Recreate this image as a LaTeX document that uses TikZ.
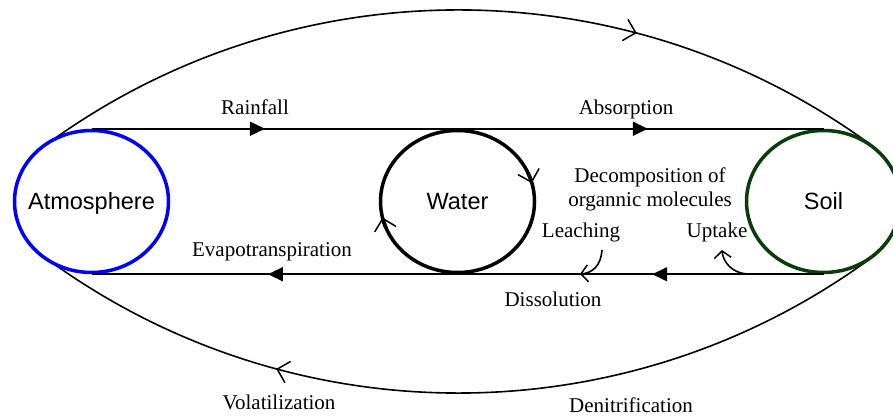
\documentclass[tikz,border=0pt]{standalone}
\usepackage{fontspec}
\setmainfont{Liberation Serif}
\newfontfamily\poolfont{Liberation Sans}
\usetikzlibrary{arrows.meta,decorations.markings,shapes.geometric}
\definecolor{atmblue}{RGB}{0,0,255}
\definecolor{soilgreen}{RGB}{10,60,10}

\tikzset{
  openhead/.tip={Straight Barb[length=11pt,width=22pt,line width=1.5pt]},
  smallhead/.tip={Straight Barb[length=7pt,width=17pt,line width=1.5pt]},
  solidhead/.tip={Triangle[length=15pt,width=14pt]},
}

\begin{document}
\begin{tikzpicture}[x=1pt,y=1pt,
  pool/.style={ellipse, draw, fill=white, line width=3.5pt,
    minimum width=154pt, minimum height=142pt, inner sep=0pt},
  poolname/.style={inner sep=0pt, text height=17pt, text depth=0pt,
    font=\poolfont\fontsize{23.5}{26}\selectfont},
  lbl/.style={anchor=base, inner sep=0pt, font=\fontsize{21}{24}\selectfont},
  flow/.style={line width=1.6pt},
  midarrows/.style n args={2}{postaction={decorate},
    decoration={markings,
      mark=at position #1 with {\arrow{solidhead}},
      mark=at position #2 with {\arrow{solidhead}}}},
  arcarrow/.style={postaction={decorate},
    decoration={markings, mark=at position #1 with {\arrow{openhead}}}},
]
\useasboundingbox (0,0) rectangle (893,417);

% outer exchange arcs (drawn first, the pools cover their ends)
\coordinate (topc) at (458.4,-290.9);
\coordinate (botc) at (458.4,721.9);
\draw[flow, arcarrow=0.698] (topc) ++(125.8:698) arc[start angle=125.8, end angle=53.3, radius=698];
\draw[flow, arcarrow=0.715] (botc) ++(-53.3:698) arc[start angle=-53.3, end angle=-125.8, radius=698];

% the three pools
\node[pool, draw=atmblue] (atm) at (91.5,215.5) {};
\node[pool] (water) at (457.5,215.5) {};
\node[pool, draw=soilgreen] (soil) at (823.5,215.5) {};
\node[poolname] (atmname) at (atm.center) {Atmosphere};
\node[poolname] (watername) at (water.center) {Water};
\node[poolname] (soilname) at (soil.center) {Soil};

% straight fluxes
\draw[flow, midarrows={0.237}{0.760}] (atm.north) -- (soil.north);
\draw[flow, midarrows={0.234}{0.759}] (soil.south) -- (atm.south);

% circulation marks on the water pool
\draw[line width=3.5pt, -{openhead}] (water.center) ++(24:77 and 71)
  arc[start angle=24, end angle=15, x radius=77, y radius=71];
\draw[line width=3.5pt, -{openhead}] (water.center) ++(202:77 and 71)
  arc[start angle=202, end angle=193, x radius=77, y radius=71];

% leaching and uptake hooks
\coordinate (leachstart) at (602,167);
\coordinate (leachend) at (580,143);
\draw[flow, -{smallhead}] (leachstart) .. controls (601,152) and (593,144) .. (leachend);
\coordinate (upstart) at (747,143);
\coordinate (upend) at (722,167);
\draw[flow, -{smallhead}] (upstart) .. controls (732,144) and (723,155) .. (upend);

% labels
\node[lbl] (rain) at (255,302) {Rainfall};
\node[lbl] (absorb) at (626,302) {Absorption};
\node[lbl] (evap) at (272,160) {Evapotranspiration};
\node[lbl] (decompa) at (650,234) {Decomposition of};
\node[lbl] (decompb) at (650,210) {organnic molecules};
\node[lbl] (leach) at (581,179) {Leaching};
\node[lbl] (uptake) at (717,179) {Uptake};
\node[lbl] (dissol) at (553,110) {Dissolution};
\node[lbl] (volat) at (279,7) {Volatilization};
\node[lbl] (denit) at (631,4) {Denitrification};
\end{tikzpicture}
\end{document}
